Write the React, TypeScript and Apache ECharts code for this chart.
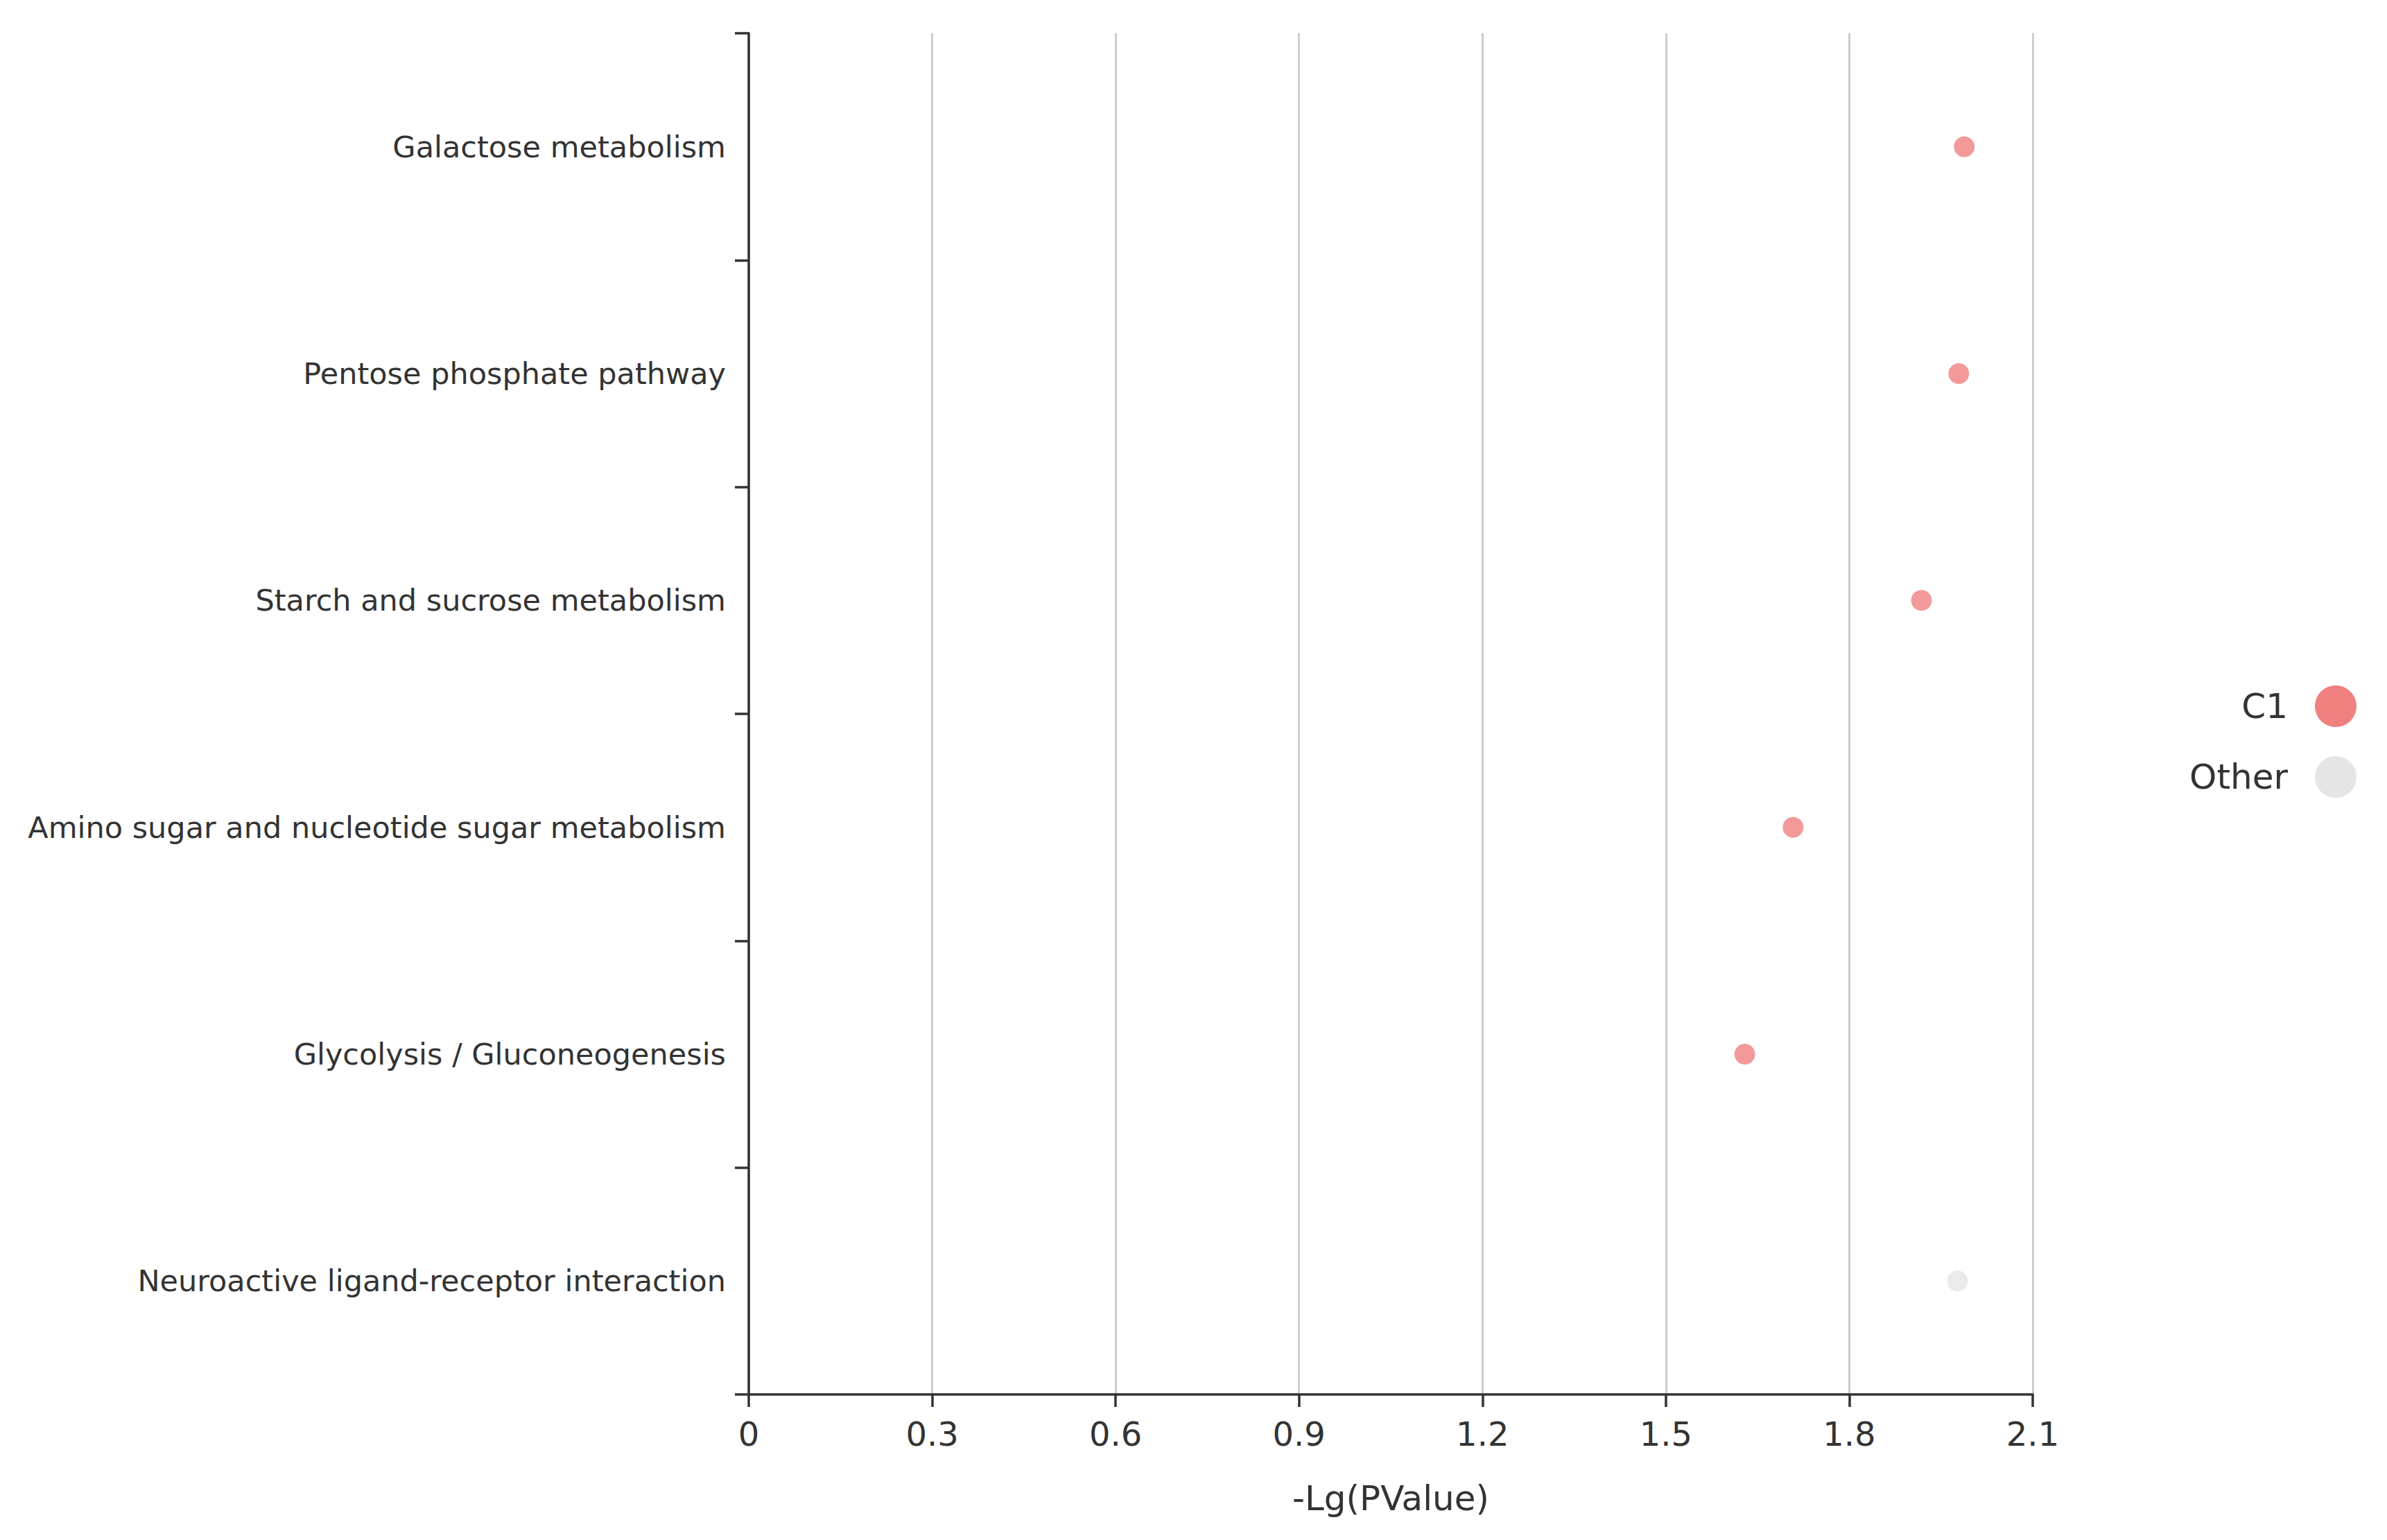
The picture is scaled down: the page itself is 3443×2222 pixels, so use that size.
import React, { useEffect, useRef } from "react";
import * as echarts from "echarts";

const categories = [
  "Galactose metabolism",
  "Pentose phosphate pathway",
  "Starch and sucrose metabolism",
  "Amino sugar and nucleotide sugar metabolism",
  "Glycolysis / Gluconeogenesis",
  "Neuroactive ligand-receptor interaction",
];

const c1Pathways = [
  "Galactose metabolism",
  "Pentose phosphate pathway",
  "Starch and sucrose metabolism",
  "Amino sugar and nucleotide sugar metabolism",
  "Glycolysis / Gluconeogenesis",
];
const c1Values = [1.988, 1.979, 1.918, 1.708, 1.629];

const otherPathways = ["Neuroactive ligand-receptor interaction"];
const otherValues = [1.977];

const xTicks = { min: 0, max: 2.1, interval: 0.3 };

const FONT = "DejaVu Sans";
const TEXT = "#333333";

export default function App() {
  const ref = useRef<HTMLDivElement>(null);

  useEffect(() => {
    if (!ref.current) return;
    const chart = echarts.init(ref.current, null, { renderer: "svg" });
    chart.setOption({
      animation: false,
      backgroundColor: "#ffffff",
      textStyle: { fontFamily: FONT },
      grid: { left: 1080, right: 511, top: 48, bottom: 210, containLabel: false },
      xAxis: {
        type: "value",
        min: xTicks.min,
        max: xTicks.max,
        interval: xTicks.interval,
        name: "-Lg(PValue)",
        nameLocation: "middle",
        nameGap: 125,
        nameTextStyle: { fontSize: 50, color: TEXT, fontFamily: FONT },
        axisLine: { show: true, lineStyle: { color: "#333333", width: 3.5 } },
        axisTick: { show: true, length: 18, lineStyle: { color: "#333333", width: 3.5 } },
        axisLabel: {
          fontSize: 48,
          color: TEXT,
          fontFamily: FONT,
          margin: 33,
          formatter: (v: number) => String(Math.round(v * 10) / 10),
        },
        splitLine: { show: true, lineStyle: { color: "#cccccc", width: 3 } },
      },
      yAxis: {
        type: "category",
        data: categories,
        inverse: true,
        boundaryGap: true,
        axisLine: { show: true, lineStyle: { color: "#333333", width: 3.5 } },
        axisTick: { show: true, length: 20, alignWithLabel: false, lineStyle: { color: "#333333", width: 3.5 } },
        axisLabel: { fontSize: 43, color: TEXT, fontFamily: FONT, margin: 33, padding: [0, 0, 4, 0] },
        splitLine: { show: false },
      },
      legend: {
        orient: "vertical",
        right: 39,
        top: 984,
        align: "right",
        icon: "circle",
        itemWidth: 60,
        itemHeight: 60,
        itemGap: 42,
        textStyle: { fontSize: 50, color: TEXT, fontFamily: FONT, padding: [0, 34, 0, 0] },
        data: [
          { name: "C1", itemStyle: { color: "#F08080", opacity: 1 } },
          { name: "Other", itemStyle: { color: "#E5E5E5", opacity: 1 } },
        ],
      },
      series: [
        {
          name: "C1",
          type: "scatter",
          symbol: "circle",
          symbolSize: 30,
          itemStyle: { color: "#F08080", opacity: 0.8 },
          data: c1Pathways.map((p, i) => [c1Values[i], p]),
        },
        {
          name: "Other",
          type: "scatter",
          symbol: "circle",
          symbolSize: 30,
          itemStyle: { color: "#E5E5E5", opacity: 0.8 },
          data: otherPathways.map((p, i) => [otherValues[i], p]),
        },
      ],
    });
    return () => chart.dispose();
  }, []);

  return (
    <div
      ref={ref}
      style={{ position: "absolute", left: 0, top: 0, width: 3443, height: 2222, background: "#fff" }}
    />
  );
}
